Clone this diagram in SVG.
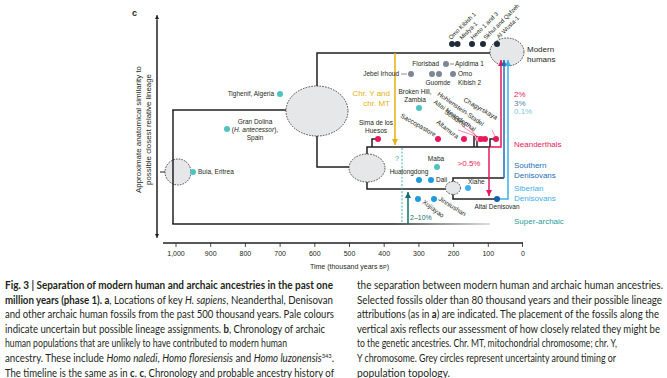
<svg xmlns="http://www.w3.org/2000/svg" width="667" height="378" viewBox="0 0 667 378">
<defs>
<style>
.t{font-family:"Liberation Sans",Arial,sans-serif;fill:#231f20}
.s{font-size:6.5px}
.m{font-size:8px}
.k{font-size:7px}
.ln{fill:none;stroke:#231f20;stroke-width:1.5}
.el{fill:#e6e7e8;stroke:#231f20;stroke-width:0.8;stroke-dasharray:1.6 1.2}
.cap{font-family:Lato,"Liberation Sans",Arial,sans-serif;font-size:11px;fill:#231f20}
.b{font-weight:bold}
.i{font-style:italic}
.teal{fill:#4ec3bf}
.pink{fill:#e6195a}
.gray{fill:#7d8596}
.navy{fill:#1f2a3a}
.blue{fill:#1e9ae0}
</style>
<marker id="aK" viewBox="0 0 6 6" refX="6" refY="3" markerWidth="4" markerHeight="4" orient="auto"><path d="M0,0L6,3L0,6z" fill="#231f20"/></marker>
<marker id="aY" viewBox="0 0 6 6" refX="6" refY="3" markerWidth="4" markerHeight="4" orient="auto"><path d="M0,0L6,3L0,6z" fill="#e6b10a"/></marker>
<marker id="aP" viewBox="0 0 6 6" refX="6" refY="3" markerWidth="4" markerHeight="4" orient="auto"><path d="M0,0L6,3L0,6z" fill="#e6195a"/></marker>
<marker id="aB" viewBox="0 0 6 6" refX="6" refY="3" markerWidth="4" markerHeight="4" orient="auto"><path d="M0,0L6,3L0,6z" fill="#1b6fba"/></marker>
<marker id="aL" viewBox="0 0 6 6" refX="6" refY="3" markerWidth="4" markerHeight="4" orient="auto"><path d="M0,0L6,3L0,6z" fill="#3cb0ea"/></marker>
<marker id="aT" viewBox="0 0 6 6" refX="6" refY="3" markerWidth="4" markerHeight="4" orient="auto"><path d="M0,0L6,3L0,6z" fill="#11706f"/></marker>
<linearGradient id="fade" x1="173" y1="0" x2="490" y2="0" gradientUnits="userSpaceOnUse">
<stop offset="0.7" stop-color="#231f20"/><stop offset="1" stop-color="#231f20" stop-opacity="0.2"/>
</linearGradient>
</defs>
<rect width="667" height="378" fill="#ffffff"/>

<text class="t b" x="132" y="16" font-size="9px">c</text>

<!-- axes -->
<g id="axes">
<path d="M157,236V15" stroke="#231f20" stroke-width="1" marker-end="url(#aK)" fill="none"/>
<path d="M157,20V238" stroke="#231f20" stroke-width="1" marker-end="url(#aK)" fill="none"/>
<text class="t" font-size="7.5px" transform="translate(141,129.5) rotate(-90)" text-anchor="middle" textLength="127" lengthAdjust="spacingAndGlyphs">Approximate anatomical similarity to</text>
<text class="t" font-size="7.5px" transform="translate(151,129.5) rotate(-90)" text-anchor="middle" textLength="111" lengthAdjust="spacingAndGlyphs">possible closest relative lineage</text>
<path d="M163,243H523" stroke="#231f20" stroke-width="1.5" fill="none"/>
<path d="M176,243v4M210.7,243v4M245.4,243v4M280.1,243v4M314.8,243v4M349.5,243v4M384.2,243v4M418.9,243v4M453.6,243v4M488.3,243v4M522.5,243v4" stroke="#231f20" stroke-width="0.8"/>
<g class="t k" text-anchor="middle">
<text x="176" y="256">1,000</text><text x="210.7" y="256">900</text><text x="245.4" y="256">800</text><text x="280.1" y="256">700</text><text x="314.8" y="256">600</text><text x="349.5" y="256">500</text><text x="384.2" y="256">400</text><text x="418.9" y="256">300</text><text x="453.6" y="256">200</text><text x="488.3" y="256">100</text><text x="523" y="256">0</text>
</g>
<text class="t k" x="349.5" y="269" text-anchor="middle">Time (thousand years <tspan font-size="5.5px">BP</tspan>)</text>
</g>

<!-- lineage uncertainty ellipses -->
<g id="root-ellipse"><ellipse class="el" cx="178" cy="172" rx="13" ry="13"/><path d="M160,172H165" stroke="#231f20" stroke-width="1"/></g>
<g id="split-ellipse"><ellipse class="el" cx="317" cy="111" rx="31" ry="25"/></g>
<g id="nd-ellipse"><ellipse class="el" cx="367" cy="168" rx="18" ry="14"/></g>
<g id="den-ellipse"><ellipse class="el" cx="453" cy="188" rx="7.5" ry="6.5"/></g>
<g id="modern-ellipse"><ellipse class="el" cx="507" cy="52" rx="17" ry="14"/></g>

<!-- connectors -->
<g id="connectors">
<path class="ln" d="M173,110V224"/>
<path d="M172.25,224H490" stroke="url(#fade)" stroke-width="1.5" fill="none"/>
<path class="ln" d="M172.25,110H286"/>
<path class="ln" d="M317,86V53H490"/>
<path class="ln" d="M317,136V167H349"/>
<path class="ln" d="M367,154V147H490"/>
<path class="ln" d="M367,182V189H445.5"/>
<path class="ln" d="M453,181.5V178H504"/>
<path class="ln" d="M453,194.5V199H497"/>
<path class="ln" d="M372,147V139H378" stroke-width="1"/>
<path class="ln" d="M474,147V136M477,147V136" stroke-width="1"/>
<path class="ln" d="M490,147V139H496" stroke-width="1"/>
<path d="M395,53V145" stroke="#e6b10a" stroke-width="1.5" fill="none" marker-end="url(#aY)"/>
<path d="M490,147H501V60" stroke="#e6195a" stroke-width="1.5" fill="none" marker-end="url(#aP)"/>
<path d="M504,178V60" stroke="#1b6fba" stroke-width="1.5" fill="none" marker-end="url(#aB)"/>
<path d="M497,199H508V60" stroke="#3cb0ea" stroke-width="1.5" fill="none" marker-end="url(#aL)"/>
<path d="M489,147V196" stroke="#e6195a" stroke-width="1.5" fill="none" marker-end="url(#aP)"/>
<path d="M402,148V224" stroke="#2aa8a8" stroke-width="0.9" stroke-dasharray="2 1.6" fill="none"/>
<path d="M408,224V192" stroke="#11706f" stroke-width="1.5" fill="none" marker-end="url(#aT)"/>
<path d="M466,122L478,139M462,126L481,139M458,130L484,139" stroke="#e6195a" stroke-width="0.5" fill="none"/>
</g>

<!-- fossils -->
<g id="buia"><circle class="teal" cx="193" cy="172" r="3"/><text class="t s" x="198" y="174.3">Buia, Eritrea</text></g>
<g id="tighenif"><circle class="teal" cx="280" cy="94" r="3"/><text class="t s" x="274" y="96.3" text-anchor="end">Tighenif, Algeria</text></g>
<g id="gran-dolina"><circle class="teal" cx="227" cy="129" r="3"/><text class="t s" text-anchor="middle"><tspan x="255" y="124.3">Gran Dolina</tspan><tspan x="255" y="132.3">(<tspan class="i">H. antecessor</tspan>),</tspan><tspan x="255" y="140.3">Spain</tspan></text></g>
<g id="broken-hill"><circle class="teal" cx="419" cy="108" r="3"/><text class="t s" text-anchor="middle"><tspan x="415" y="94.3">Broken Hill,</tspan><tspan x="415" y="102.3">Zambia</tspan></text></g>
<g id="maba"><circle class="teal" cx="437" cy="167" r="3"/><text class="t s" x="436" y="161.3" text-anchor="middle">Maba</text></g>

<g id="jebel-irhoud"><circle class="gray" cx="411" cy="74" r="3"/><path d="M401,74H407" stroke="#231f20" stroke-width="0.5"/><text class="t s" x="399" y="76.3" text-anchor="end">Jebel Irhoud</text></g>
<g id="florisbad"><circle class="gray" cx="446" cy="64" r="3"/><text class="t s" x="439" y="66.3" text-anchor="end">Florisbad</text></g>
<g id="apidima"><path d="M450,64H454" stroke="#231f20" stroke-width="0.5"/><text class="t s" x="455" y="66.3">Apidima 1</text></g>
<g id="guomde"><circle class="gray" cx="432" cy="74" r="3"/><circle class="gray" cx="439" cy="74" r="3"/><text class="t s" x="438" y="85.3" text-anchor="middle">Guomde</text></g>
<g id="omo-kibish-2"><circle class="gray" cx="453" cy="74" r="3"/><text class="t s"><tspan x="458" y="76.3">Omo</tspan><tspan x="458" y="85.3">Kibish 2</tspan></text></g>

<g id="sima"><circle class="pink" cx="378" cy="139" r="3"/><text class="t s" text-anchor="middle"><tspan x="376" y="125.3">Sima de los</tspan><tspan x="376" y="133">Huesos</tspan></text></g>
<g id="saccopastore"><circle class="pink" cx="438" cy="139" r="3"/><text class="t s" transform="translate(400,117) rotate(30)">Saccopastore</text></g>
<g id="altamura"><circle class="pink" cx="464" cy="139" r="3"/><text class="t s" transform="translate(436,123) rotate(38)">Altamura</text></g>
<g id="hohlenstein"><circle cx="478" cy="139" r="2.6" fill="#f6a5c0" stroke="#e6195a" stroke-width="0.6"/><text class="t s" transform="translate(437,95) rotate(35)">Hohlenstein-Stadel</text></g>
<g id="altai-neanderthal"><circle class="pink" cx="481" cy="139" r="3"/><text class="t s" transform="translate(433,103) rotate(35)">Altai Neanderthal</text></g>
<g id="scladina"><circle class="pink" cx="485" cy="139" r="3"/><text class="t s" transform="translate(444,113) rotate(35)">Scladina</text></g>
<g id="chagyrskaya"><circle class="pink" cx="496" cy="139" r="3"/><path d="M492,130L495,136" stroke="#e6195a" stroke-width="0.5"/><text class="t s" transform="translate(463,101) rotate(30)">Chagyrskaya</text></g>

<g id="hualongdong"><circle class="blue" cx="419" cy="180" r="3"/><text class="t s" x="409" y="174.3" text-anchor="middle">Hualongdong</text></g>
<g id="dali"><circle class="blue" cx="431" cy="180" r="3"/><text class="t s" x="436" y="182.3">Dali</text></g>
<g id="xiahe"><circle cx="468" cy="188" r="3" fill="#3cb0ea"/><text class="t s" x="468" y="184">Xiahe</text></g>
<g id="altai-denisovan"><circle cx="497" cy="199" r="3" fill="#0e62ae"/><text class="t s" x="497" y="209.3" text-anchor="middle">Altai Denisovan</text></g>
<g id="xujiayao"><circle class="blue" cx="418" cy="199" r="3"/><text class="t s" transform="translate(422,203) rotate(37)">Xujiayao</text></g>
<g id="jinniushan"><circle class="blue" cx="434" cy="199" r="3"/><text class="t s" transform="translate(438,200) rotate(32)">Jinniushan</text></g>

<g id="modern-fossils">
<circle class="navy" cx="452" cy="44" r="3"/><circle class="navy" cx="457.5" cy="44" r="3"/><circle class="navy" cx="472" cy="44" r="3"/><circle class="navy" cx="483" cy="44" r="3"/><circle class="navy" cx="497" cy="44" r="3"/>
<g class="t" font-size="6px">
<text transform="translate(451,40) rotate(-45)">Omo Kibish 1</text>
<text transform="translate(462,40) rotate(-45)">Mislya-1</text>
<text transform="translate(473,40) rotate(-45)">Herto 1 and 3</text>
<text transform="translate(486,40) rotate(-45)">Skhul and Qafzeh</text>
<text transform="translate(499,39) rotate(-45)">Al Wusta-1</text>
</g>
</g>

<!-- annotations -->
<g id="labels">
<text class="m t" x="527" y="51.5">Modern</text>
<text class="m t" x="527" y="61.5">humans</text>
<text class="m" x="514" y="97" fill="#e6195a" font-family="Liberation Sans,Arial,sans-serif">2%</text>
<text class="m" x="514" y="106" fill="#5b7fa6" font-family="Liberation Sans,Arial,sans-serif">3%</text>
<text class="m" x="514" y="114" fill="#7cc6ee" font-family="Liberation Sans,Arial,sans-serif">0.1%</text>
<text class="m" x="514" y="147" fill="#e6195a" font-family="Liberation Sans,Arial,sans-serif">Neanderthals</text>
<text class="m" fill="#1b6fba" font-family="Liberation Sans,Arial,sans-serif"><tspan x="514" y="168">Southern</tspan><tspan x="514" y="177.5">Denisovans</tspan></text>
<text class="m" fill="#3cb0ea" font-family="Liberation Sans,Arial,sans-serif"><tspan x="514" y="191">Siberian</tspan><tspan x="514" y="200.5">Denisovans</tspan></text>
<text class="m" x="514" y="224" fill="#2a9d9a" font-family="Liberation Sans,Arial,sans-serif">Super-archaic</text>
<text class="m" fill="#e6b10a" text-anchor="end" font-family="Liberation Sans,Arial,sans-serif"><tspan x="390" y="96">Chr. Y and</tspan><tspan x="390" y="106">chr. MT</tspan></text>
<text class="m" x="469" y="166" text-anchor="middle" fill="#e6195a" font-family="Liberation Sans,Arial,sans-serif">&gt;0.5%</text>
<text x="397" y="160.5" text-anchor="middle" fill="#2aa8a8" font-family="Liberation Sans,Arial,sans-serif" font-size="7px">?</text>
<text class="k" x="410" y="219.5" fill="#11706f" font-family="Liberation Sans,Arial,sans-serif">2–10%</text>
</g>

<!-- caption -->
<g id="caption">
<text class="cap b" x="5" y="289" textLength="328" lengthAdjust="spacingAndGlyphs">Fig. 3 | Separation of modern human and archaic ancestries in the past one</text>
<text class="cap" x="5" y="303.6" textLength="328" lengthAdjust="spacingAndGlyphs"><tspan class="b">million years (phase 1). a</tspan>, Locations of key <tspan class="i">H. sapiens</tspan>, Neanderthal, Denisovan</text>
<text class="cap" x="5" y="318.2" textLength="329" lengthAdjust="spacingAndGlyphs">and other archaic human fossils from the past 500 thousand years. Pale colours</text>
<text class="cap" x="5" y="332.8" textLength="320" lengthAdjust="spacingAndGlyphs">indicate uncertain but possible lineage assignments. <tspan class="b">b</tspan>, Chronology of archaic</text>
<text class="cap" x="5" y="347.4" textLength="282" lengthAdjust="spacingAndGlyphs">human populations that are unlikely to have contributed to modern human</text>
<text class="cap" x="5" y="362" textLength="329" lengthAdjust="spacingAndGlyphs">ancestry. These include <tspan class="i">Homo naledi</tspan>, <tspan class="i">Homo floresiensis</tspan> and <tspan class="i">Homo luzonensis</tspan><tspan font-size="6.5px" dy="-4">343</tspan><tspan dy="4">.</tspan></text>
<text class="cap" x="5" y="376.5" textLength="329" lengthAdjust="spacingAndGlyphs">The timeline is the same as in <tspan class="b">c</tspan>. <tspan class="b">c</tspan>, Chronology and probable ancestry history of</text>
<text class="cap" x="357" y="289" textLength="306" lengthAdjust="spacingAndGlyphs">the separation between modern human and archaic human ancestries.</text>
<text class="cap" x="357" y="303.6" textLength="305" lengthAdjust="spacingAndGlyphs">Selected fossils older than 80 thousand years and their possible lineage</text>
<text class="cap" x="357" y="318.2" textLength="302" lengthAdjust="spacingAndGlyphs">attributions (as in <tspan class="b">a</tspan>) are indicated. The placement of the fossils along the</text>
<text class="cap" x="357" y="332.8" textLength="303" lengthAdjust="spacingAndGlyphs">vertical axis reflects our assessment of how closely related they might be</text>
<text class="cap" x="357" y="347.4" textLength="260" lengthAdjust="spacingAndGlyphs">to the genetic ancestries. Chr. MT, mitochondrial chromosome; chr. Y,</text>
<text class="cap" x="357" y="362" textLength="259" lengthAdjust="spacingAndGlyphs">Y chromosome. Grey circles represent uncertainty around timing or</text>
<text class="cap" x="357" y="376.5" textLength="93" lengthAdjust="spacingAndGlyphs">population topology.</text>
</g>
</svg>
